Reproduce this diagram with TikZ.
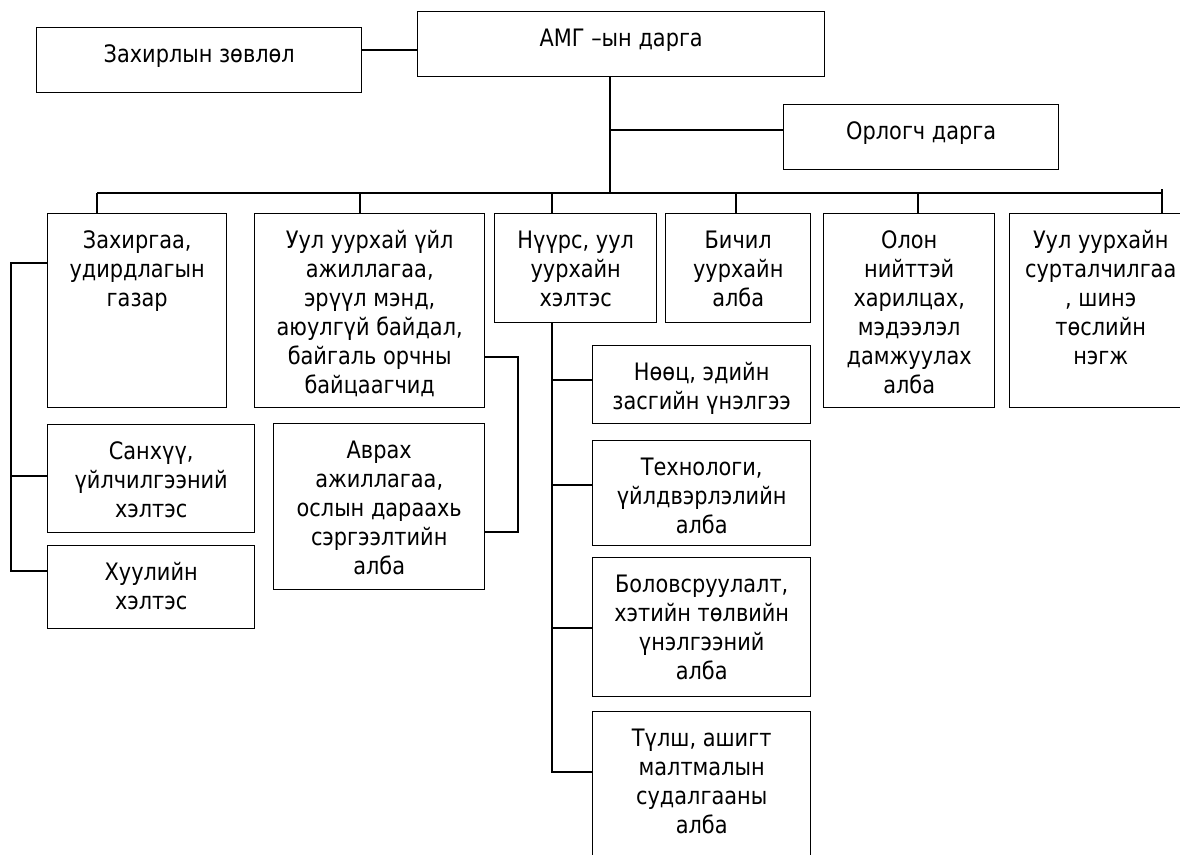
\documentclass[tikz,border=0pt]{standalone}
\usepackage{fontspec}
\setmainfont{DejaVu Sans}[FakeStretch=0.87]
\tikzset{
  obox/.style={draw, line width=1.4pt, inner sep=0pt, anchor=north west, font=\fontsize{24}{29}\selectfont},
  link/.style={line width=1.4pt}
}
\newcommand\orgbox[6]{%
  \node[obox] (#1) at (#2,#3) {\parbox[c][\dimexpr #5pt-#3pt\relax][t]{\dimexpr #4pt-#2pt\relax}{\centering\rule{0pt}{35pt}#6\par}};%
}
\begin{document}
\begin{tikzpicture}[x=1pt,y=-1pt]
\useasboundingbox (0,0) rectangle (1180,854);
\begin{scope}
\clip (0,0) rectangle (1180,854);
\fill[white] (0,0) rectangle (1180,854);
\orgbox{zah}{36}{27}{361}{92}{Захирлын зөвлөл}
\orgbox{amg}{417}{11}{824}{76}{АМГ –ын дарга}
\orgbox{orl}{783}{104}{1058}{169}{Орлогч дарга}
\orgbox{b1}{47}{213}{226}{407}{Захиргаа,\\удирдлагын\\газар}
\orgbox{b2}{254}{213}{484}{407}{Уул уурхай үйл\\ажиллагаа,\\эрүүл мэнд,\\аюулгүй байдал,\\байгаль орчны\\байцаагчид}
\orgbox{b3}{494}{213}{656}{322}{Нүүрс, уул\\уурхайн\\хэлтэс}
\orgbox{b4}{665}{213}{810}{322}{Бичил\\уурхайн\\алба}
\orgbox{b5}{823}{213}{994}{407}{Олон\\нийттэй\\харилцах,\\мэдээлэл\\дамжуулах\\алба}
\orgbox{b6}{1009}{213}{1191}{407}{Уул уурхайн\\сурталчилгаа\\, шинэ\\төслийн\\нэгж}
\orgbox{s1}{47}{424}{254}{532}{Санхүү,\\үйлчилгээний\\хэлтэс}
\orgbox{s2}{47}{545}{254}{628}{Хуулийн\\хэлтэс}
\orgbox{a1}{273}{423}{484}{589}{Аврах\\ажиллагаа,\\ослын дараахь\\сэргээлтийн\\алба}
\orgbox{n1}{592}{345}{810}{423}{Нөөц, эдийн\\засгийн үнэлгээ}
\orgbox{n2}{592}{440}{810}{545}{Технологи,\\үйлдвэрлэлийн\\алба}
\orgbox{n3}{592}{557}{810}{696}{Боловсруулалт,\\хэтийн төлвийн\\үнэлгээний\\алба}
\orgbox{n4}{592}{711}{810}{880}{Түлш, ашигт\\малтмалын\\судалгааны\\алба}

% top links
\draw[link] (zah.east |- 0,50) -- (amg.west |- 0,50);
\coordinate (busL) at (97,193);
\coordinate (busR) at (1162,193);
\coordinate (amgdrop) at (610,193);
\draw[link] (amg.south -| amgdrop) -- (amgdrop);
\draw[link] (amgdrop |- 0,130) -- (orl.west |- 0,130);
\draw[link] (busL) -- (busR);
\draw[link] (busL) -- (busL |- b1.north);
\draw[link] (360,193) -- (360,213);
\draw[link] (552,193) -- (552,213);
\draw[link] (736,193) -- (736,213);
\draw[link] (918,193) -- (918,213);
\draw[link] (1162,189) -- (busR |- b6.north);

% left group
\coordinate (lt) at (11,263);
\coordinate (lb) at (11,571);
\draw[link] (b1.west |- lt) -- (lt) -- (lb) -- (s2.west |- lb);
\draw[link] (11,476) -- (s1.west |- 0,476);

% Uul -> Avrah
\draw[link] (b2.east |- 0,357) -- (518,357) -- (518,532) -- (a1.east |- 0,532);

% Nuurs column
\coordinate (nb) at (552,772);
\draw[link] (b3.south -| nb) -- (nb) -- (n4.west |- nb);
\draw[link] (552,380) -- (n1.west |- 0,380);
\draw[link] (552,485) -- (n2.west |- 0,485);
\draw[link] (552,628) -- (n3.west |- 0,628);
\end{scope}
\end{tikzpicture}
\end{document}
